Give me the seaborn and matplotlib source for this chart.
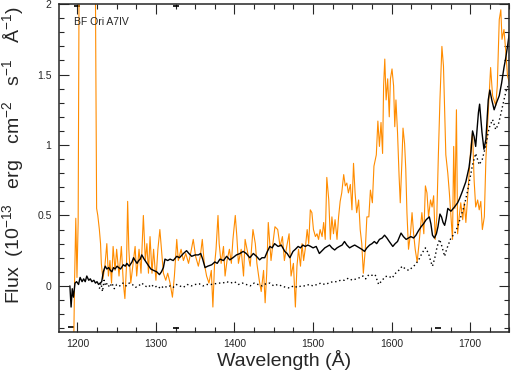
import numpy as np
import pandas as pd
import matplotlib
matplotlib.use('agg')
import matplotlib.pyplot as plt
from matplotlib.ticker import MultipleLocator
import seaborn as sns

# observed spectrum (orange)
obs_wl = [1193.0, 1195.5, 1196.5, 1198.0, 1199.5, 1201.0, 1202.5, 1222.5, 1224.5, 1226.0,
          1228.0, 1229.5, 1230.5, 1232.5, 1235.0, 1237.5, 1239.5, 1241.5, 1243.5, 1245.5,
          1248.0, 1250.0, 1253.0, 1256.0, 1258.5, 1260.5, 1262.5, 1264.0, 1265.5, 1268.0,
          1271.0, 1273.5, 1275.5, 1278.5, 1281.0, 1284.0, 1286.5, 1288.5, 1290.5, 1292.5,
          1295.0, 1297.0, 1300.0, 1302.5, 1305.0, 1307.5, 1309.5, 1312.5, 1315.0, 1318.0,
          1321.0, 1323.5, 1326.5, 1328.5, 1332.0, 1335.0, 1338.0, 1341.5, 1344.5, 1347.5,
          1350.5, 1354.0, 1356.5, 1359.0, 1361.5, 1364.5, 1367.5, 1370.5, 1372.5, 1374.5,
          1376.5, 1379.0, 1380.5, 1383.0, 1386.0, 1388.0, 1390.5, 1393.5, 1396.0, 1398.0,
          1401.0, 1403.0, 1405.0, 1408.5, 1411.5, 1413.5, 1417.0, 1420.0, 1423.5, 1426.5,
          1428.5, 1431.5, 1434.0, 1437.0, 1439.0, 1441.0, 1443.0, 1446.5, 1449.5, 1451.5,
          1455.0, 1458.0, 1461.0, 1463.5, 1466.5, 1469.5, 1472.0, 1475.0, 1477.5, 1479.5,
          1481.5, 1484.0, 1486.0, 1488.0, 1490.0, 1492.5, 1494.5, 1496.5, 1498.5, 1500.5,
          1503.0, 1505.0, 1507.0, 1509.0, 1511.5, 1513.5, 1515.5, 1517.5, 1520.0, 1522.0,
          1524.0, 1526.0, 1528.0, 1530.5, 1532.5, 1534.5, 1536.5, 1539.0, 1541.0, 1543.0,
          1545.0, 1547.5, 1549.5, 1551.5, 1553.5, 1555.5, 1558.0, 1560.0, 1562.0, 1564.0,
          1566.5, 1568.5, 1571.0, 1573.0, 1575.5, 1577.5, 1580.5, 1582.5, 1584.5, 1586.5,
          1588.5, 1589.8, 1591.3, 1593.0, 1595.0, 1597.0, 1598.5, 1600.5, 1602.5, 1604.0,
          1605.5, 1607.5, 1609.5, 1611.0, 1613.0, 1614.5, 1616.5, 1618.0, 1619.5, 1621.5,
          1624.0, 1626.0, 1628.0, 1630.0, 1632.5, 1634.5, 1636.5, 1638.5, 1641.0, 1643.0,
          1645.0, 1647.0, 1649.5, 1651.5, 1653.5, 1655.5, 1657.5, 1659.5, 1661.5, 1664.0,
          1666.0, 1667.5, 1669.0, 1671.5, 1673.5, 1675.5, 1677.5, 1679.0, 1680.5, 1682.5,
          1684.0, 1686.0, 1688.0, 1690.5, 1692.5, 1694.5, 1696.5, 1699.0, 1701.0, 1703.0,
          1705.0, 1707.0, 1709.5, 1711.5, 1713.5, 1715.5, 1718.0, 1720.0, 1722.0, 1726.0,
          1728.5, 1732.5, 1734.5, 1737.0, 1739.0, 1740.5, 1743.0, 1745.5, 1747.5, 1750.0]
obs_flux = [-0.45, -0.35, 0.05, 0.48, 0.06, 0.45, 2.60, 2.60, 0.55, 0.50,
            0.40, 0.30, 0.16, 0.05, 0.14, 0.30, 0.07, 0.18, 0.02, 0.28,
            0.11, 0.26, 0.07, 0.28, 0.02, -0.09, 0.14, 0.60, 0.26, 0.02,
            0.16, 0.28, 0.07, 0.26, 0.09, 0.50, 0.18, 0.30, 0.09, 0.35,
            0.09, 0.26, 0.04, 0.26, 0.40, 0.23, 0.09, 0.04, 0.09, 0.02,
            -0.08, 0.07, 0.33, 0.18, 0.26, 0.18, 0.23, 0.16, 0.24, 0.33,
            0.21, 0.14, 0.21, 0.33, 0.16, 0.07, 0.02, 0.11, -0.15, 0.14,
            0.26, 0.50, 0.30, 0.16, 0.28, 0.07, 0.18, 0.26, 0.16, 0.33,
            0.50, 0.35, 0.16, 0.26, 0.07, 0.33, 0.23, 0.14, 0.40, 0.30,
            0.16, 0.04, -0.04, 0.11, -0.12, 0.09, 0.45, 0.18, 0.33, 0.42,
            0.40, 0.28, 0.35, 0.18, 0.28, 0.37, 0.07, 0.16, -0.15, 0.14,
            0.26, 0.14, 0.30, 0.18, 0.26, 0.40, 0.30, 0.54, 0.52, 0.40,
            0.35, 0.37, 0.33, 0.40, 0.35, 0.45, 0.33, 0.77, 0.61, 0.33,
            0.49, 0.37, 0.47, 0.33, 0.49, 0.60, 0.66, 0.79, 0.71, 0.73,
            0.66, 0.72, 0.54, 0.87, 0.66, 0.52, 0.61, 0.40, 0.30, 0.09,
            0.26, 0.49, 0.49, 0.68, 0.59, 0.85, 0.93, 1.17, 0.99, 1.16,
            0.94, 1.42, 1.61, 1.32, 1.47, 1.20, 1.47, 1.54, 1.42, 1.13,
            1.32, 1.09, 0.78, 0.59, 0.87, 1.12, 1.01, 0.83, 0.52, 0.26,
            0.37, 0.52, 0.37, 0.26, 0.17, 0.28, 0.40, 0.52, 0.37, 0.71,
            0.66, 0.49, 0.61, 0.56, 0.64, 0.33, 0.49, 0.93, 1.32, 1.70,
            1.56, 1.25, 0.93, 0.80, 0.66, 0.49, 0.33, 0.99, 0.55, 1.25,
            0.37, 0.49, 0.59, 0.47, 0.59, 0.45, 0.61, 0.83, 1.00, 1.09,
            0.75, 0.56, 0.61, 0.54, 0.60, 0.40, 0.49, 0.90, 1.13, 1.55,
            1.35, 1.28, 1.42, 1.89, 1.96, 1.75, 1.82, 1.65, 1.49, 1.44]

# smoothed spectrum (black solid)
smooth_wl = [1190.5, 1192.0, 1193.5, 1195.0, 1197.0, 1199.0, 1201.5, 1203.5, 1206.0, 1208.0,
             1210.0, 1212.0, 1214.5, 1216.5, 1218.5, 1221.0, 1223.0, 1225.0, 1227.0, 1229.0,
             1231.0, 1233.0, 1235.5, 1237.5, 1240.0, 1242.0, 1244.0, 1246.0, 1248.0, 1250.5,
             1252.5, 1255.0, 1258.5, 1261.0, 1263.0, 1266.0, 1269.5, 1271.5, 1273.5, 1276.0,
             1278.0, 1280.0, 1282.0, 1285.0, 1288.5, 1291.0, 1293.5, 1297.0, 1301.0, 1304.5,
             1307.0, 1309.5, 1311.5, 1315.0, 1318.0, 1322.0, 1326.5, 1330.0, 1335.0, 1339.0,
             1342.0, 1345.5, 1350.0, 1354.0, 1357.0, 1359.5, 1362.5, 1366.0, 1371.0, 1375.0,
             1378.0, 1381.5, 1386.0, 1390.0, 1394.0, 1398.0, 1402.5, 1407.0, 1411.0, 1415.0,
             1419.5, 1424.0, 1428.0, 1432.0, 1435.0, 1438.5, 1441.5, 1445.0, 1448.0, 1451.0,
             1455.5, 1459.5, 1464.0, 1467.0, 1470.5, 1474.5, 1477.5, 1481.0, 1484.0, 1487.0,
             1490.0, 1493.5, 1497.0, 1500.0, 1504.0, 1508.0, 1511.5, 1515.0, 1518.0, 1521.0,
             1524.0, 1527.5, 1530.5, 1533.5, 1537.0, 1540.0, 1543.0, 1546.5, 1549.5, 1553.0,
             1556.0, 1559.0, 1562.0, 1565.5, 1568.5, 1572.0, 1575.0, 1578.0, 1581.0, 1584.5,
             1588.0, 1591.0, 1594.0, 1597.0, 1601.5, 1604.5, 1607.5, 1612.0, 1615.0, 1618.5,
             1621.5, 1624.5, 1628.0, 1631.0, 1634.0, 1637.5, 1640.5, 1644.0, 1648.0, 1650.0,
             1652.0, 1654.5, 1657.0, 1659.0, 1661.5, 1663.5, 1665.5, 1667.5, 1669.5, 1671.5,
             1675.5, 1680.0, 1684.0, 1686.5, 1690.0, 1694.5, 1698.5, 1701.0, 1703.0, 1705.0,
             1707.0, 1710.5, 1712.0, 1715.0, 1717.5, 1720.0, 1723.0, 1725.0, 1727.5, 1730.5,
             1733.5, 1737.0, 1740.0, 1743.0, 1745.0, 1747.5, 1750.0]
smooth_flux = [0.00, -0.15, -0.02, -0.08, 0.02, 0.03, 0.01, 0.06, 0.03, 0.05,
               0.03, 0.07, 0.04, 0.05, 0.03, 0.04, 0.02, 0.03, 0.01, 0.02,
               0.03, 0.10, 0.14, 0.12, 0.13, 0.11, 0.10, 0.13, 0.12, 0.14,
               0.13, 0.12, 0.15, 0.14, 0.16, 0.14, 0.17, 0.20, 0.18, 0.16,
               0.18, 0.19, 0.22, 0.19, 0.16, 0.14, 0.12, 0.11, 0.10, 0.08,
               0.10, 0.13, 0.19, 0.18, 0.19, 0.18, 0.21, 0.20, 0.23, 0.25,
               0.23, 0.21, 0.22, 0.22, 0.23, 0.19, 0.13, 0.14, 0.15, 0.17,
               0.16, 0.19, 0.18, 0.21, 0.185, 0.20, 0.22, 0.23, 0.245, 0.23,
               0.20, 0.23, 0.21, 0.185, 0.20, 0.20, 0.24, 0.28, 0.27, 0.30,
               0.28, 0.29, 0.245, 0.23, 0.20, 0.245, 0.26, 0.28, 0.27, 0.29,
               0.28, 0.29, 0.28, 0.27, 0.28, 0.23, 0.25, 0.27, 0.28, 0.29,
               0.27, 0.255, 0.27, 0.28, 0.29, 0.315, 0.29, 0.27, 0.28, 0.29,
               0.28, 0.27, 0.26, 0.245, 0.27, 0.29, 0.30, 0.315, 0.30, 0.33,
               0.34, 0.36, 0.34, 0.315, 0.28, 0.30, 0.315, 0.375, 0.35, 0.33,
               0.34, 0.35, 0.34, 0.36, 0.39, 0.42, 0.44, 0.47, 0.49, 0.44,
               0.36, 0.34, 0.37, 0.42, 0.51, 0.49, 0.45, 0.43, 0.48, 0.55,
               0.53, 0.56, 0.59, 0.62, 0.67, 0.74, 0.84, 0.95, 1.10, 1.06,
               0.99, 1.23, 1.29, 1.09, 0.97, 1.04, 1.32, 1.39, 1.32, 1.25,
               1.30, 1.35, 1.44, 1.55, 1.61, 1.70, 1.80]

# model / template (black dotted)
model_wl = [1228.0, 1230.0, 1232.0, 1234.0, 1236.0, 1238.0, 1241.0, 1244.0, 1247.0, 1250.0,
            1254.0, 1258.0, 1262.0, 1266.0, 1270.0, 1274.0, 1278.0, 1282.0, 1286.0, 1290.0,
            1294.0, 1298.0, 1302.0, 1306.0, 1310.0, 1314.0, 1318.0, 1322.0, 1326.0, 1330.0,
            1335.0, 1340.0, 1345.0, 1350.0, 1355.0, 1360.0, 1365.0, 1370.0, 1375.0, 1380.0,
            1385.0, 1390.0, 1395.0, 1400.0, 1405.0, 1410.0, 1415.0, 1420.0, 1425.0, 1430.0,
            1435.0, 1440.0, 1445.0, 1450.0, 1455.0, 1460.0, 1465.0, 1470.0, 1475.0, 1480.0,
            1485.0, 1490.0, 1495.0, 1500.0, 1505.0, 1510.0, 1515.0, 1520.0, 1525.0, 1530.0,
            1535.0, 1540.0, 1545.0, 1550.0, 1555.0, 1560.0, 1563.5, 1567.0, 1571.0, 1575.0,
            1579.0, 1583.5, 1588.0, 1592.0, 1596.0, 1600.5, 1605.0, 1609.0, 1613.5, 1617.5,
            1622.0, 1626.0, 1630.0, 1634.5, 1638.5, 1643.0, 1647.0, 1650.0, 1652.0, 1655.0,
            1658.0, 1661.0, 1663.0, 1665.5, 1667.5, 1670.0, 1675.5, 1680.0, 1684.0, 1688.0,
            1692.5, 1696.5, 1701.0, 1703.0, 1707.0, 1711.5, 1715.5, 1720.0, 1724.0, 1728.5,
            1732.5, 1736.0, 1739.0, 1743.0, 1746.0, 1750.0]
model_flux = [-0.02, 0.02, -0.04, 0.04, 0.00, 0.02, -0.01, 0.02, -0.02, 0.01,
              0.00, 0.02, 0.00, 0.02, 0.01, -0.01, 0.00, 0.02, 0.00, -0.01,
              0.01, -0.01, 0.00, -0.02, 0.00, -0.01, 0.00, -0.01, 0.01, 0.00,
              -0.01, 0.01, 0.00, 0.01, 0.015, 0.00, 0.01, 0.01, 0.015, 0.02,
              0.02, 0.03, 0.02, 0.03, 0.01, 0.02, 0.01, 0.00, 0.02, 0.01,
              0.00, 0.015, 0.02, 0.00, 0.01, 0.00, -0.01, -0.015, 0.00, -0.01,
              0.00, 0.00, 0.01, 0.00, 0.01, 0.02, 0.01, 0.02, 0.03, 0.03,
              0.04, 0.04, 0.055, 0.04, 0.05, 0.06, 0.07, 0.05, 0.08, 0.075,
              0.08, 0.01, 0.04, 0.066, 0.07, 0.055, 0.09, 0.11, 0.14, 0.12,
              0.11, 0.13, 0.15, 0.185, 0.23, 0.27, 0.23, 0.17, 0.14, 0.20,
              0.28, 0.33, 0.30, 0.25, 0.21, 0.26, 0.34, 0.37, 0.42, 0.49,
              0.57, 0.67, 0.80, 0.86, 0.94, 0.86, 0.90, 1.00, 1.12, 1.18,
              1.11, 1.15, 1.22, 1.32, 1.39, 1.44]

# little line-id marks along the frame
mark_top_wl = [1200, 1325]
mark_top_y = [1.985, 1.985]
mark_bot_wl = [1192, 1325, 1659]
mark_bot_y = [-0.29, -0.30, -0.30]

star_name = 'BF Ori A7IV'

sns.set_style('ticks')
plt.rcParams['font.family'] = ['Liberation Sans', 'DejaVu Sans']
plt.rcParams['mathtext.default'] = 'regular'

fig, ax = plt.subplots(figsize=(5.11, 3.75), dpi=100)
fig.subplots_adjust(left=0.1145, right=0.997, bottom=0.1155, top=0.989)

obs = pd.DataFrame({'wl': obs_wl, 'flux': obs_flux})
smooth = pd.DataFrame({'wl': smooth_wl, 'flux': smooth_flux})
model = pd.DataFrame({'wl': model_wl, 'flux': model_flux})

sns.lineplot(data=obs, x='wl', y='flux', ax=ax, color='#ff8c00', lw=0.8,
             sort=False, estimator=None)
sns.lineplot(data=model, x='wl', y='flux', ax=ax, color='black', lw=1.0,
             ls=(0, (1, 2)), sort=False, estimator=None)
sns.lineplot(data=smooth, x='wl', y='flux', ax=ax, color='black', lw=1.0,
             sort=False, estimator=None)

sns.scatterplot(x=mark_top_wl, y=mark_top_y, ax=ax, marker='_', s=20,
                color='black', linewidth=1.2, clip_on=False)
sns.scatterplot(x=mark_bot_wl, y=mark_bot_y, ax=ax, marker='_', s=20,
                color='black', linewidth=1.2, clip_on=False)

ax.text(1196, 1.87, star_name, fontsize=7.5, va='center', ha='left')

ax.set_xlim(1176, 1750)
ax.set_ylim(-0.325, 2.0)
ax.xaxis.set_major_locator(MultipleLocator(100))
ax.xaxis.set_minor_locator(MultipleLocator(25))
ax.yaxis.set_major_locator(MultipleLocator(0.5))
ax.yaxis.set_minor_locator(MultipleLocator(0.1))
ax.yaxis.set_major_formatter(plt.FuncFormatter(lambda v, p: f'{v:g}'))
ax.tick_params(which='both', direction='in', top=True, right=True,
               labelsize=7.5, width=0.8, pad=5)
ax.tick_params(which='major', length=7)
ax.tick_params(which='minor', length=3.5)
for s in ax.spines.values():
    s.set_linewidth(1.1)

ax.set_xlabel('Wavelength (Å)', fontsize=14, labelpad=1)
ax.set_ylabel('Flux  (10$^{-13}$   erg   cm$^{-2}$   s$^{-1}$   Å$^{-1}$)',
              fontsize=14, labelpad=4)
ax.yaxis.set_label_coords(-0.072, 0.54)

fig.savefig('out.png', dpi=100)
plt.close()
